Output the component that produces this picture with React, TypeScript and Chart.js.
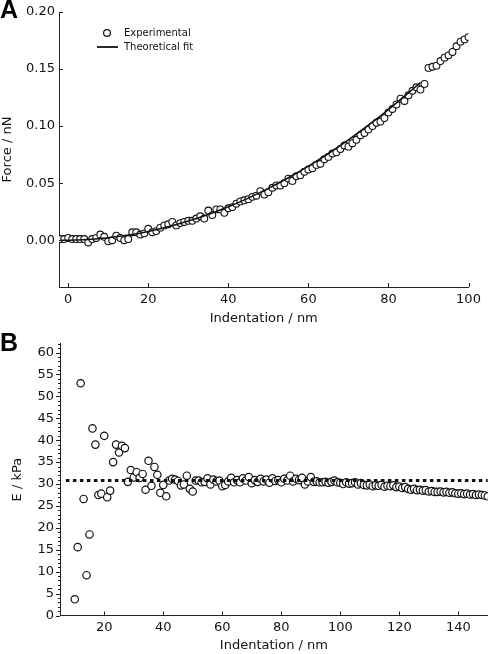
import React, { useEffect, useRef } from "react";
import { Chart, registerables } from "chart.js";

Chart.register(...registerables);

const FONT = "'DejaVu Sans', 'Open Sans', sans-serif";
const INK = "#111";

// ---------- Panel A: force vs indentation ----------
const indentA = [
  -2, -1, 0, 1, 2, 3, 4, 5, 6, 7, 8, 9,
  10, 11, 12, 13, 14, 15, 16, 17, 18, 19,
  20, 21, 22, 23, 24, 25, 26, 27, 28, 29,
  30, 31, 32, 33, 34, 35, 36, 37, 38, 39,
  40, 41, 42, 43, 44, 45, 46, 47, 48, 49,
  50, 51, 52, 53, 54, 55, 56, 57, 58, 59,
  60, 61, 62, 63, 64, 65, 66, 67, 68, 69,
  70, 71, 72, 73, 74, 75, 76, 77, 78, 79,
  80, 81, 82, 83, 84, 85, 86, 87, 88, 89,
  90, 91, 92, 93, 94, 95, 96, 97, 98, 99, 100,
];
const forceExp = [
  0.001, 0.001, 0.002, 0.001, 0.001, 0.001, 0.001, -0.002, 0.001, 0.002, 0.005, 0.003,
  -0.001, 0.0, 0.004, 0.002, 0.0, 0.001, 0.007, 0.007, 0.005, 0.006,
  0.01, 0.007, 0.008, 0.011, 0.013, 0.014, 0.016, 0.013, 0.015, 0.016,
  0.017, 0.017, 0.019, 0.021, 0.019, 0.026, 0.022, 0.027, 0.027, 0.024,
  0.028, 0.029, 0.032, 0.034, 0.035, 0.036, 0.038, 0.039, 0.043, 0.04,
  0.042, 0.046, 0.048, 0.048, 0.05, 0.054, 0.052, 0.056, 0.057, 0.06,
  0.062, 0.063, 0.066, 0.067, 0.071, 0.073, 0.076, 0.077, 0.08, 0.083,
  0.082, 0.085, 0.088, 0.092, 0.094, 0.097, 0.1, 0.103, 0.104, 0.107,
  0.112, 0.115, 0.119, 0.124, 0.122, 0.127, 0.131, 0.134, 0.132, 0.137,
  0.151, 0.152, 0.153, 0.157, 0.16, 0.162, 0.165, 0.17, 0.174, 0.176, 0.178,
];
const fitX = [-2, 0, 5, 10, 15, 20, 25, 30, 35, 40, 45, 50, 55, 60, 65, 70, 75, 80, 85, 88];
const fitForce = [
  0.0, 0.0, 0.0006, 0.0021, 0.0045, 0.0077, 0.0118, 0.0168, 0.0226, 0.0293,
  0.0369, 0.0454, 0.0547, 0.0649, 0.076, 0.088, 0.1008, 0.1145, 0.1291, 0.1382,
];
const forceTicks = [0, 0.05, 0.1, 0.15, 0.2];
const indentTicksA = [0, 20, 40, 60, 80, 100];

// ---------- Panel B: modulus vs indentation ----------
const indentB = [
  10, 11, 12, 13, 14, 15, 16, 17, 18, 19,
  20, 21, 22, 23, 24, 25, 26, 27, 28, 29,
  30, 31, 32, 33, 34, 35, 36, 37, 38, 39,
  40, 41, 42, 43, 44, 45, 46, 47, 48, 49,
  50, 51, 52, 53, 54, 55, 56, 57, 58, 59,
  60, 61, 62, 63, 64, 65, 66, 67, 68, 69,
  70, 71, 72, 73, 74, 75, 76, 77, 78, 79,
  80, 81, 82, 83, 84, 85, 86, 87, 88, 89,
  90, 91, 92, 93, 94, 95, 96, 97, 98, 99,
  100, 101, 102, 103, 104, 105, 106, 107, 108, 109,
  110, 111, 112, 113, 114, 115, 116, 117, 118, 119,
  120, 121, 122, 123, 124, 125, 126, 127, 128, 129,
  130, 131, 132, 133, 134, 135, 136, 137, 138, 139,
  140, 141, 142, 143, 144, 145, 146, 147, 148, 149, 150,
];
const modulusE = [
  3.7, 15.6, 53.0, 26.6, 9.2, 18.5, 42.7, 39.0, 27.5, 27.8,
  41.0, 27.0, 28.5, 35.0, 39.0, 37.2, 38.7, 38.2, 30.5, 33.2,
  31.5, 32.7, 31.4, 32.3, 28.7, 35.3, 29.6, 33.9, 32.1, 28.0,
  29.8, 27.2, 30.8, 31.2, 31.0, 30.7, 29.7, 29.9, 31.9, 28.9,
  28.3, 30.8, 30.8, 30.4, 30.5, 31.3, 29.9, 31.0, 30.6, 30.8,
  29.5, 29.8, 30.6, 31.4, 30.4, 30.9, 30.4, 31.3, 30.8, 31.6,
  30.2, 30.9, 30.5, 31.2, 30.6, 31.0, 30.3, 31.3, 30.7, 30.9,
  30.4, 31.2, 30.8, 31.9, 30.6, 31.2, 30.9, 31.4, 29.9, 30.6,
  31.6, 30.5, 30.6, 30.4, 30.4, 30.5, 30.3, 30.5, 30.8, 30.4,
  30.3, 30.0, 30.4, 30.1, 30.2, 30.4, 29.9, 30.2, 29.8, 29.7,
  29.9, 29.5, 29.7, 29.6, 29.8, 29.4, 29.6, 29.5, 29.7, 29.3,
  29.4, 29.1, 29.3, 28.9, 28.7, 28.9, 28.6, 28.7, 28.5, 28.6,
  28.3, 28.4, 28.2, 28.2, 28.3, 28.1, 28.2, 28.0, 28.1, 27.9,
  27.8, 27.9, 27.7, 27.8, 27.6, 27.7, 27.5, 27.6, 27.5, 27.4, 27.2,
];
const meanLineX = [7, 150];
const meanLineE = [30.8, 30.8];
const eTicks = [0, 5, 10, 15, 20, 25, 30, 35, 40, 45, 50, 55, 60];
const indentTicksB = [20, 40, 60, 80, 100, 120, 140];

// ---------- plugins ----------
const axisMarks = {
  id: "axisMarks",
  afterDatasetsDraw(chart: any, _args: any, o: any) {
    const ctx = chart.ctx;
    const { left, bottom } = chart.chartArea;
    const xs = chart.scales.x;
    const ys = chart.scales.y;
    ctx.save();
    ctx.strokeStyle = "#222";
    ctx.lineWidth = 1;
    ctx.beginPath();
    for (const t of xs.ticks) {
      const px = Math.round(xs.getPixelForValue(t.value)) + 0.5;
      ctx.moveTo(px, bottom);
      ctx.lineTo(px, bottom - o.xIn);
    }
    for (const t of ys.ticks) {
      const py = Math.round(ys.getPixelForValue(t.value)) + 0.5;
      ctx.moveTo(left + o.yIn, py);
      ctx.lineTo(left - o.yOut, py);
    }
    if (o.minor) {
      for (let v = Math.ceil(ys.min); v <= ys.max; v += o.minor) {
        const py = Math.round(ys.getPixelForValue(v)) + 0.5;
        ctx.moveTo(left, py);
        ctx.lineTo(left - 2, py);
      }
    }
    ctx.stroke();
    ctx.restore();
  },
};

const legendBox = {
  id: "legendBox",
  afterDraw(chart: any, _args: any, o: any) {
    if (!o || !o.show) return;
    const ctx = chart.ctx;
    ctx.save();
    ctx.fillStyle = "#fff";
    ctx.strokeStyle = INK;
    ctx.lineWidth = 1.2;
    ctx.beginPath();
    ctx.arc(107, 33, 3.4, 0, Math.PI * 2);
    ctx.fill();
    ctx.stroke();
    ctx.lineWidth = 1.8;
    ctx.beginPath();
    ctx.moveTo(97, 47);
    ctx.lineTo(118, 47);
    ctx.stroke();
    ctx.fillStyle = INK;
    ctx.font = `10px ${FONT}`;
    ctx.textBaseline = "middle";
    ctx.fillText("Experimental", 124, 33);
    ctx.fillText("Theoretical fit", 124, 47);
    ctx.restore();
  },
};

function fixWidth(w: number) {
  return (scale: any) => {
    scale.width = w;
  };
}
function fixHeight(h: number) {
  return (scale: any) => {
    scale.height = h;
  };
}
function setTicks(values: number[]) {
  return (scale: any) => {
    scale.ticks = values.map((v) => ({ value: v }));
  };
}

function ChartA() {
  const ref = useRef<HTMLCanvasElement>(null);
  useEffect(() => {
    const chart = new Chart(ref.current as HTMLCanvasElement, {
      type: "scatter",
      data: {
        datasets: [
          {
            label: "Theoretical fit",
            data: fitX.map((x, i) => ({ x, y: fitForce[i] })),
            showLine: true,
            borderColor: INK,
            borderWidth: 1.6,
            pointRadius: 0,
            cubicInterpolationMode: "monotone",
            order: 0,
          },
          {
            label: "Experimental",
            data: indentA.map((x, i) => ({ x, y: forceExp[i] })),
            showLine: false,
            pointRadius: 3.4,
            pointBorderWidth: 1.1,
            pointBackgroundColor: "#fff",
            pointBorderColor: INK,
            order: 1,
          },
        ],
      },
      options: {
        responsive: false,
        animation: false,
        events: [],
        layout: { padding: { left: 0, top: 12, right: 24.5, bottom: 0 } },
        plugins: {
          legend: { display: false },
          tooltip: { enabled: false },
          axisMarks: { xIn: 4, yIn: 4, yOut: 0 },
          legendBox: { show: true },
        } as any,
        scales: {
          x: {
            type: "linear",
            min: -2.3,
            max: 100,
            afterFit: fixHeight(43),
            afterBuildTicks: setTicks(indentTicksA),
            grid: { display: false, drawTicks: false },
            border: { display: true, color: "#222", width: 1 },
            ticks: { color: INK, font: { family: FONT, size: 13 }, padding: 5, maxRotation: 0 },
            title: {
              display: true,
              text: "Indentation / nm",
              color: INK,
              font: { family: FONT, size: 13 },
              padding: { top: 0, bottom: 4 },
            },
          },
          y: {
            type: "linear",
            min: -0.041,
            max: 0.2,
            afterFit: fixWidth(59),
            afterBuildTicks: setTicks(forceTicks),
            grid: { display: false, drawTicks: false },
            border: { display: true, color: "#222", width: 1 },
            ticks: {
              color: INK,
              font: { family: FONT, size: 13 },
              padding: 4,
              callback: (v: any) => Number(v).toFixed(2),
            },
            title: {
              display: true,
              text: "Force / nN",
              color: INK,
              font: { family: FONT, size: 13 },
              padding: { top: 0, bottom: 0 },
            },
          },
        },
      },
      plugins: [axisMarks, legendBox],
    } as any);
    return () => chart.destroy();
  }, []);
  return (
    <canvas
      ref={ref}
      width={493}
      height={330}
      style={{ position: "absolute", left: 0, top: 0, width: 493, height: 330 }}
    />
  );
}

function ChartB() {
  const ref = useRef<HTMLCanvasElement>(null);
  useEffect(() => {
    const chart = new Chart(ref.current as HTMLCanvasElement, {
      type: "scatter",
      data: {
        datasets: [
          {
            label: "Mean",
            data: meanLineX.map((x, i) => ({ x, y: meanLineE[i] })),
            showLine: true,
            borderColor: INK,
            borderWidth: 3,
            borderDash: [3.5, 3.5],
            borderCapStyle: "butt",
            pointRadius: 0,
            order: 0,
          },
          {
            label: "E",
            data: indentB.map((x, i) => ({ x, y: modulusE[i] })),
            showLine: false,
            pointRadius: 3.7,
            pointBorderWidth: 1.2,
            pointBackgroundColor: "#fff",
            pointBorderColor: INK,
            order: 1,
          },
        ],
      },
      options: {
        responsive: false,
        animation: false,
        events: [],
        layout: { padding: { left: 0, top: 10, right: 4.5, bottom: 0 } },
        plugins: {
          legend: { display: false },
          tooltip: { enabled: false },
          axisMarks: { xIn: 4, yIn: 0, yOut: 4, minor: 1 },
        } as any,
        scales: {
          x: {
            type: "linear",
            min: 5,
            max: 150,
            afterFit: fixHeight(38.5),
            afterBuildTicks: setTicks(indentTicksB),
            grid: { display: false, drawTicks: false },
            border: { display: true, color: "#222", width: 1 },
            ticks: { color: INK, font: { family: FONT, size: 13 }, padding: 4, maxRotation: 0 },
            title: {
              display: true,
              text: "Indentation / nm",
              color: INK,
              font: { family: FONT, size: 13 },
              padding: { top: 0, bottom: 1 },
            },
          },
          y: {
            type: "linear",
            min: 0,
            max: 62,
            afterFit: fixWidth(60),
            afterBuildTicks: setTicks(eTicks),
            grid: { display: false, drawTicks: false },
            border: { display: true, color: "#222", width: 1 },
            ticks: { color: INK, font: { family: FONT, size: 13 }, padding: 6 },
            title: {
              display: true,
              text: "E / kPa",
              color: INK,
              font: { family: FONT, size: 13 },
              padding: { top: 10, bottom: 0 },
            },
          },
        },
      },
      plugins: [axisMarks],
    } as any);
    return () => chart.destroy();
  }, []);
  return (
    <canvas
      ref={ref}
      width={493}
      height={324}
      style={{ position: "absolute", left: 0, top: 330, width: 493, height: 324 }}
    />
  );
}

const panelLabel: React.CSSProperties = {
  position: "absolute",
  left: 0,
  fontFamily: "'Liberation Sans', Arial, sans-serif",
  fontWeight: "bold",
  fontSize: 25,
  lineHeight: "25px",
  color: "#000",
};

export default function App() {
  return (
    <div
      style={{
        position: "absolute",
        left: 0,
        top: 0,
        width: 493,
        height: 654,
        background: "#fff",
        overflow: "hidden",
      }}
    >
      <ChartA />
      <ChartB />
      <div style={{ ...panelLabel, top: -3 }}>A</div>
      <div style={{ ...panelLabel, top: 330 }}>B</div>
    </div>
  );
}
